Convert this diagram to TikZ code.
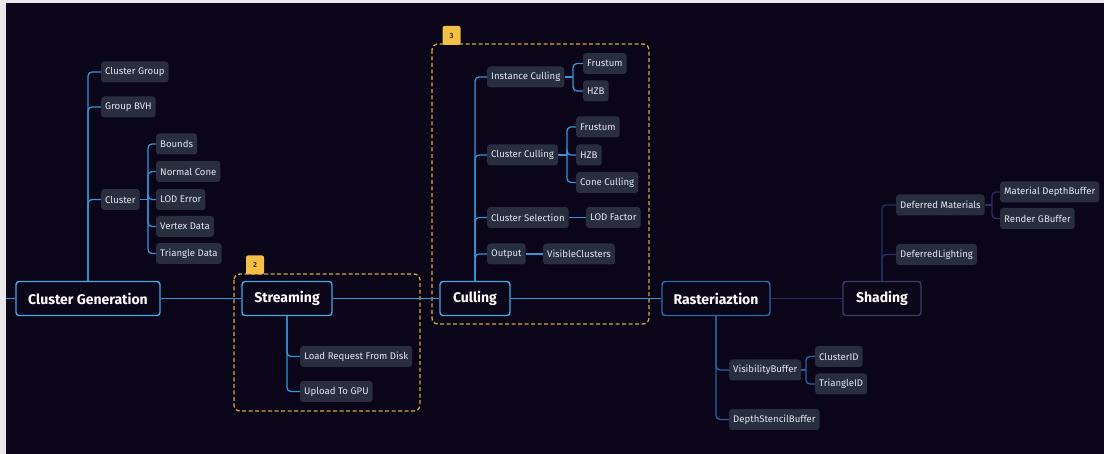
\documentclass[tikz,border=0pt]{standalone}
\usepackage{fontspec}
\setmainfont{Fira Sans}
\definecolor{bg}{HTML}{0A0518}
\definecolor{edge}{HTML}{E9E7EC}
\definecolor{subfill}{HTML}{282E40}
\definecolor{subtext}{HTML}{E2E6EE}
\definecolor{bright}{HTML}{3496D8}
\definecolor{brightbox}{HTML}{4AA6E4}
\definecolor{mid}{HTML}{2563A6}
\definecolor{midbox}{HTML}{2C6BAC}
\definecolor{navy}{HTML}{2A2E66}
\definecolor{navybox}{HTML}{3A3D6C}
\definecolor{gold}{HTML}{D8A640}
\definecolor{badgefill}{HTML}{F3BF46}
\definecolor{badgetext}{HTML}{4A3300}
\begin{document}
\begin{tikzpicture}[x=1pt,y=-1pt,
  mainnode/.style={draw, line width=1.4pt, rounded corners=3pt, fill=bg, text=white,
    font=\fontsize{14}{16}\selectfont\bfseries, minimum height=34pt, inner xsep=0pt},
  subnode/.style={fill=subfill, rounded corners=3pt, text=subtext,
    font=\fontsize{9.6}{11}\selectfont, minimum height=21pt, inner xsep=4pt, inner ysep=0pt},
  conn/.style={line width=1.3pt, rounded corners=4pt},
  groupbox/.style={draw=gold, line width=1.3pt, dashed, dash pattern=on 4pt off 2.5pt, rounded corners=6pt},
  badgenode/.style={fill=badgefill, rounded corners=2pt, text=badgetext,
    font=\fontsize{7.5}{8}\selectfont\bfseries, minimum width=18pt, minimum height=19pt, inner sep=0pt}
]
\fill[edge] (0,0) rectangle (1104,454);
\fill[bg] (6,3) rectangle (1104,454);
\useasboundingbox (0,0) rectangle (1104,454);

% group boxes
\draw[groupbox] (234,274) rectangle (420,411);
\draw[groupbox] (432,44) rectangle (649,324);
\node[badgenode] (b2) at (255,265) {2};
\node[badgenode] (b3) at (451.5,35.5) {3};

% main nodes
\node[mainnode, draw=brightbox, minimum width=144pt] (cg) at (88,298.5) {Cluster Generation};
\node[mainnode, draw=brightbox, minimum width=90pt] (st) at (287,298.5) {Streaming};
\node[mainnode, draw=brightbox, minimum width=70pt] (cu) at (475,298.5) {Culling};
\node[mainnode, draw=midbox, minimum width=108pt] (ra) at (716,298.5) {Rasteriaztion};
\node[mainnode, draw=navybox, minimum width=78pt] (sh) at (882,298.5) {Shading};

\coordinate (lstart) at (6,298.5);
\draw[conn, bright] (lstart) -- (cg.west);
\draw[conn, bright] (cg.east) -- (st.west);
\draw[conn, bright] (st.east) -- (cu.west);
\draw[conn, bright] (cu.east) -- (ra.west);
\draw[conn, navy] (ra.east) -- (sh.west);

% Cluster Generation children
\node[subnode, anchor=west] (cgroup) at (101,72) {Cluster Group};
\node[subnode, anchor=west] (gbvh) at (101,107) {Group BVH};
\node[subnode, anchor=west] (clus) at (101,199.5) {Cluster};
\draw[conn, bright] (cg.north) |- (cgroup.west);
\draw[conn, bright] (cg.north) |- (gbvh.west);
\draw[conn, bright] (cg.north) |- (clus.west);

\node[subnode, anchor=west] (bnd) at (156,144) {Bounds};
\node[subnode, anchor=west] (ncone) at (156,171.5) {Normal Cone};
\node[subnode, anchor=west] (loderr) at (156,199.5) {LOD Error};
\node[subnode, anchor=west] (vdata) at (156,226.5) {Vertex Data};
\node[subnode, anchor=west] (tdata) at (156,253.5) {Triangle Data};
\coordinate (cb) at (148,199.5);
\draw[conn, bright] (clus.east) -- (cb);
\draw[conn, bright] (cb) |- (bnd.west);
\draw[conn, bright] (cb) |- (ncone.west);
\draw[conn, bright] (cb) |- (loderr.west);
\draw[conn, bright] (cb) |- (vdata.west);
\draw[conn, bright] (cb) |- (tdata.west);

% Streaming children
\node[subnode, anchor=west] (lrd) at (300,356.5) {Load Request From Disk};
\node[subnode, anchor=west] (ugpu) at (300,391.5) {Upload To GPU};
\draw[conn, bright] (st.south) |- (lrd.west);
\draw[conn, bright] (st.south) |- (ugpu.west);

% Culling children
\node[subnode, anchor=west] (ic) at (487,77) {Instance Culling};
\node[subnode, anchor=west] (cc) at (487,155) {Cluster Culling};
\node[subnode, anchor=west] (cs) at (487,217.5) {Cluster Selection};
\node[subnode, anchor=west] (out) at (487,254) {Output};
\draw[conn, bright] (cu.north) |- (ic.west);
\draw[conn, bright] (cu.north) |- (cc.west);
\draw[conn, bright] (cu.north) |- (cs.west);
\draw[conn, bright] (cu.north) |- (out.west);

\node[subnode, anchor=west] (icf) at (583,63.5) {Frustum};
\node[subnode, anchor=west] (ich) at (583,91) {HZB};
\coordinate (icb) at (573,77);
\draw[conn, bright] (ic.east) -- (icb);
\draw[conn, bright] (icb) |- (icf.west);
\draw[conn, bright] (icb) |- (ich.west);

\node[subnode, anchor=west] (ccf) at (576,127) {Frustum};
\node[subnode, anchor=west] (cch) at (576,155) {HZB};
\node[subnode, anchor=west] (ccc) at (576,182.5) {Cone Culling};
\coordinate (ccb) at (567,155);
\draw[conn, bright] (cc.east) -- (ccb);
\draw[conn, bright] (ccb) |- (ccf.west);
\draw[conn, bright] (ccb) |- (cch.west);
\draw[conn, bright] (ccb) |- (ccc.west);

\node[subnode, anchor=west] (lodf) at (586,217.5) {LOD Factor};
\draw[conn, bright] (cs.east) -- (lodf.west);
\node[subnode, anchor=west] (vis) at (543,254) {VisibleClusters};
\draw[conn, bright] (out.east) -- (vis.west);

% Rasterization children
\node[subnode, anchor=west] (vb) at (729,370) {VisibilityBuffer};
\node[subnode, anchor=west] (dsb) at (729,419.5) {DepthStencilBuffer};
\draw[conn, mid] (ra.south) |- (vb.west);
\draw[conn, mid] (ra.south) |- (dsb.west);
\node[subnode, anchor=west] (cid) at (815,356.5) {ClusterID};
\node[subnode, anchor=west] (tid) at (815,384) {TriangleID};
\coordinate (vbb) at (806,370);
\draw[conn, mid] (vb.east) -- (vbb);
\draw[conn, mid] (vbb) |- (cid.west);
\draw[conn, mid] (vbb) |- (tid.west);

% Shading children
\node[subnode, anchor=west] (dm) at (896,205) {Deferred Materials};
\node[subnode, anchor=west] (dl) at (896,254.5) {DeferredLighting};
\draw[conn, navy] (sh.north) |- (dm.west);
\draw[conn, navy] (sh.north) |- (dl.west);
\node[subnode, anchor=west] (mdb) at (1000,192) {Material DepthBuffer};
\node[subnode, anchor=west] (rgb) at (1000,218.5) {Render GBuffer};
\coordinate (dmb) at (992,205);
\draw[conn, navy] (dm.east) -- (dmb);
\draw[conn, navy] (dmb) |- (mdb.west);
\draw[conn, navy] (dmb) |- (rgb.west);
\end{tikzpicture}
\end{document}
